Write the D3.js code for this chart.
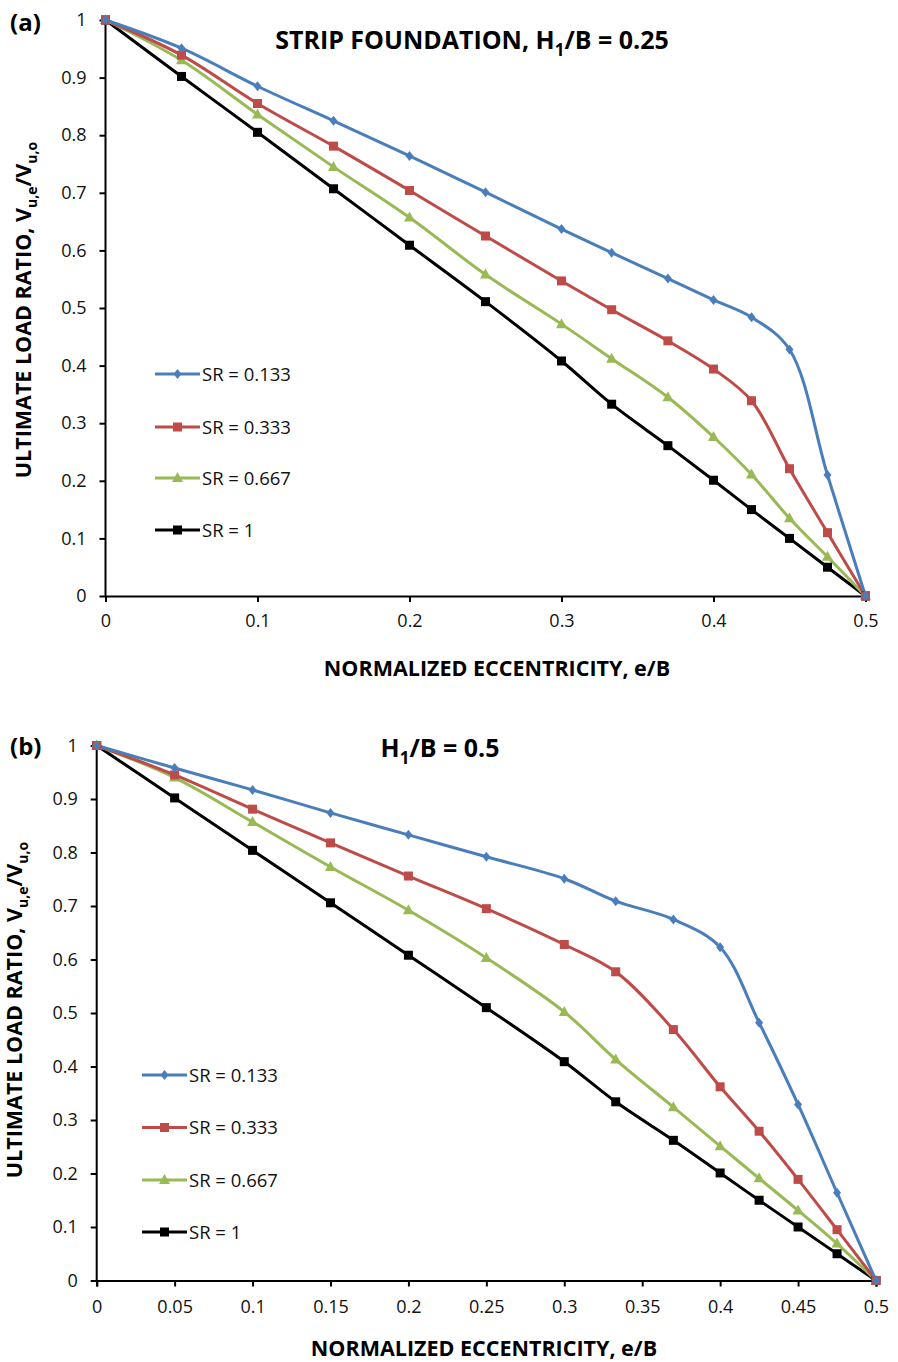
<!DOCTYPE html>
<html><head><meta charset="utf-8">
<script src="https://cdn.jsdelivr.net/npm/d3@7"></script>
<style>body{margin:0;background:#fff}svg{display:block}</style>
</head><body>
<svg id="c" width="898" height="1362"></svg>
<script>
const xVals = [0, 0.05, 0.1, 0.15, 0.2, 0.25, 0.3, 0.333, 0.37, 0.4, 0.425, 0.45, 0.475, 0.5];
const seriesNames = ["SR = 0.133", "SR = 0.333", "SR = 0.667", "SR = 1"];
const seriesColors = ["#4a7ebb", "#be4b48", "#98b954", "#000000"];
const seriesMarkers = ["diamond", "square", "triangle", "square"];
const dataA_SR0133 = [1, 0.951, 0.885, 0.825, 0.764, 0.701, 0.637, 0.596, 0.551, 0.514, 0.484, 0.428, 0.210, 0];
const dataA_SR0333 = [1, 0.939, 0.855, 0.781, 0.704, 0.625, 0.547, 0.497, 0.443, 0.394, 0.339, 0.221, 0.110, 0];
const dataA_SR0667 = [1, 0.930, 0.836, 0.745, 0.657, 0.558, 0.472, 0.412, 0.345, 0.276, 0.211, 0.135, 0.068, 0];
const dataA_SR1 = [1, 0.902, 0.805, 0.707, 0.609, 0.511, 0.408, 0.333, 0.261, 0.201, 0.150, 0.100, 0.050, 0];
const dataB_SR0133 = [1, 0.958, 0.917, 0.874, 0.833, 0.792, 0.751, 0.709, 0.675, 0.623, 0.482, 0.329, 0.164, 0];
const dataB_SR0333 = [1, 0.945, 0.881, 0.818, 0.756, 0.695, 0.628, 0.577, 0.469, 0.362, 0.279, 0.189, 0.095, 0];
const dataB_SR0667 = [1, 0.940, 0.857, 0.773, 0.692, 0.603, 0.502, 0.413, 0.324, 0.251, 0.191, 0.131, 0.069, 0];
const dataB_SR1 = [1, 0.902, 0.804, 0.706, 0.608, 0.510, 0.409, 0.334, 0.262, 0.201, 0.150, 0.100, 0.050, 0];
const xTicksA = [0, 0.1, 0.2, 0.3, 0.4, 0.5];
const xTicksB = [0, 0.05, 0.1, 0.15, 0.2, 0.25, 0.3, 0.35, 0.4, 0.45, 0.5];
const yTicks = [0, 0.1, 0.2, 0.3, 0.4, 0.5, 0.6, 0.7, 0.8, 0.9, 1];

const svg = d3.select("#c");
const FONT = "'Open Sans', 'Liberation Sans', sans-serif";

function drawPanel(cfg) {
  const g = svg.append("g");
  const x = d3.scaleLinear().domain([0, 0.5]).range([cfg.x0, cfg.x1]);
  const y = d3.scaleLinear().domain([0, 1]).range([cfg.y0, cfg.y1]);

  const xa = g.append("g").attr("transform", `translate(0,${cfg.y0})`)
    .call(d3.axisBottom(x).tickValues(cfg.xTicks).tickSizeOuter(0).tickSize(6).tickPadding(cfg.xPad).tickFormat(d => d3.format("")(+d.toFixed(2))));
  const ya = g.append("g").attr("transform", `translate(${cfg.x0},0)`)
    .call(d3.axisLeft(y).tickValues(yTicks).tickSizeOuter(0).tickSize(6).tickPadding(cfg.yPad).tickFormat(d => d3.format("")(+d.toFixed(1))));
  [xa, ya].forEach(a => {
    a.selectAll("path").attr("stroke", "#000").attr("stroke-width", 2);
    a.selectAll("line").attr("stroke", "#000").attr("stroke-width", 2);
    a.selectAll("text").attr("font-family", FONT).attr("font-size", 18).attr("fill", "#111");
  });
  ya.selectAll("path").attr("d", `M0,${cfg.y0}V${cfg.y1 - 1}`);

  const line = d3.line().x((d, i) => x(xVals[i])).y(d => y(d)).curve(d3.curveCatmullRom.alpha(0.5));
  const order = [3, 2, 1, 0];
  order.forEach(si => {
    g.append("path").attr("d", line(cfg.series[si])).attr("fill", "none")
      .attr("stroke", seriesColors[si]).attr("stroke-width", 3).attr("stroke-linejoin", "round");
  });
  order.forEach(si => {
    cfg.series[si].forEach((v, i) => drawMarker(g, seriesMarkers[si], x(xVals[i]), y(v), seriesColors[si], si));
  });

  // legend
  seriesNames.forEach((n, si) => {
    const ly = cfg.legY[si];
    g.append("line").attr("x1", cfg.legX).attr("x2", cfg.legX + 45).attr("y1", ly).attr("y2", ly)
      .attr("stroke", seriesColors[si]).attr("stroke-width", 3);
    drawMarker(g, seriesMarkers[si], cfg.legX + 22.5, ly, seriesColors[si], si);
    g.append("text").attr("x", cfg.legX + 47).attr("y", ly + 6.5).text(n)
      .attr("font-family", FONT).attr("font-size", 18.5).attr("fill", "#111");
  });

  // panel label
  g.append("text").attr("x", 10).attr("y", cfg.labY).text(cfg.label)
    .attr("font-family", FONT).attr("font-weight", "bold").attr("font-size", 24).attr("fill", "#000");
  // title
  const t = g.append("text").attr("x", cfg.titleX).attr("y", cfg.titleY).attr("text-anchor", "middle")
    .attr("font-family", FONT).attr("font-weight", "bold").attr("font-size", 25).attr("fill", "#000");
  t.append("tspan").text(cfg.titlePre + "H");
  t.append("tspan").text("1").attr("font-size", 17).attr("dy", 7);
  t.append("tspan").text("/B = " + cfg.titleVal).attr("dy", -7);

  // axis titles
  g.append("text").attr("x", cfg.xLabX).attr("y", cfg.xLabY).attr("text-anchor", "middle")
    .attr("font-family", FONT).attr("font-weight", "bold").attr("font-size", 21.5).attr("fill", "#000")
    .text("NORMALIZED ECCENTRICITY, e/B");
  const yl = g.append("text").attr("transform", `translate(${cfg.yLabX},${cfg.yLabY}) rotate(-90)`)
    .attr("text-anchor", "middle").attr("font-family", FONT).attr("font-weight", "bold")
    .attr("font-size", 21.5).attr("fill", "#000");
  yl.append("tspan").text("ULTIMATE LOAD RATIO, V");
  yl.append("tspan").text("u,e").attr("font-size", 14).attr("dy", 6);
  yl.append("tspan").text("/V").attr("dy", -6);
  yl.append("tspan").text("u,o").attr("font-size", 14).attr("dy", 6);
}

function drawMarker(g, type, cx, cy, color, si) {
  if (type === "diamond") {
    g.append("path").attr("d", `M${cx},${cy - 5}L${cx + 4},${cy}L${cx},${cy + 5}L${cx - 4},${cy}Z`).attr("fill", color);
  } else if (type === "square") {
    const s = 9;
    g.append("rect").attr("x", cx - s / 2).attr("y", cy - s / 2).attr("width", s).attr("height", s).attr("fill", color);
  } else {
    g.append("path").attr("d", `M${cx},${cy - 6}L${cx + 5.5},${cy + 4}L${cx - 5.5},${cy + 4}Z`).attr("fill", color);
  }
}

drawPanel({
  x0: 105.5, x1: 865.5, y0: 596, y1: 20,
  xTicks: xTicksA, xPad: 12, yPad: 13,
  series: [dataA_SR0133, dataA_SR0333, dataA_SR0667, dataA_SR1],
  legX: 155, legY: [374, 427, 478, 530],
  label: "(a)", labY: 31,
  titlePre: "STRIP FOUNDATION, ", titleVal: "0.25", titleX: 472, titleY: 49,
  xLabX: 497, xLabY: 676, yLabX: 31, yLabY: 310
});
drawPanel({
  x0: 96.7, x1: 876, y0: 1280.5, y1: 745.5,
  xTicks: xTicksB, xPad: 14, yPad: 13,
  series: [dataB_SR0133, dataB_SR0333, dataB_SR0667, dataB_SR1],
  legX: 142, legY: [1075, 1127.5, 1180, 1232],
  label: "(b)", labY: 755,
  titlePre: "", titleVal: "0.5", titleX: 440, titleY: 757,
  xLabX: 484, xLabY: 1356, yLabX: 22, yLabY: 1010
});
</script>
</body></html>
